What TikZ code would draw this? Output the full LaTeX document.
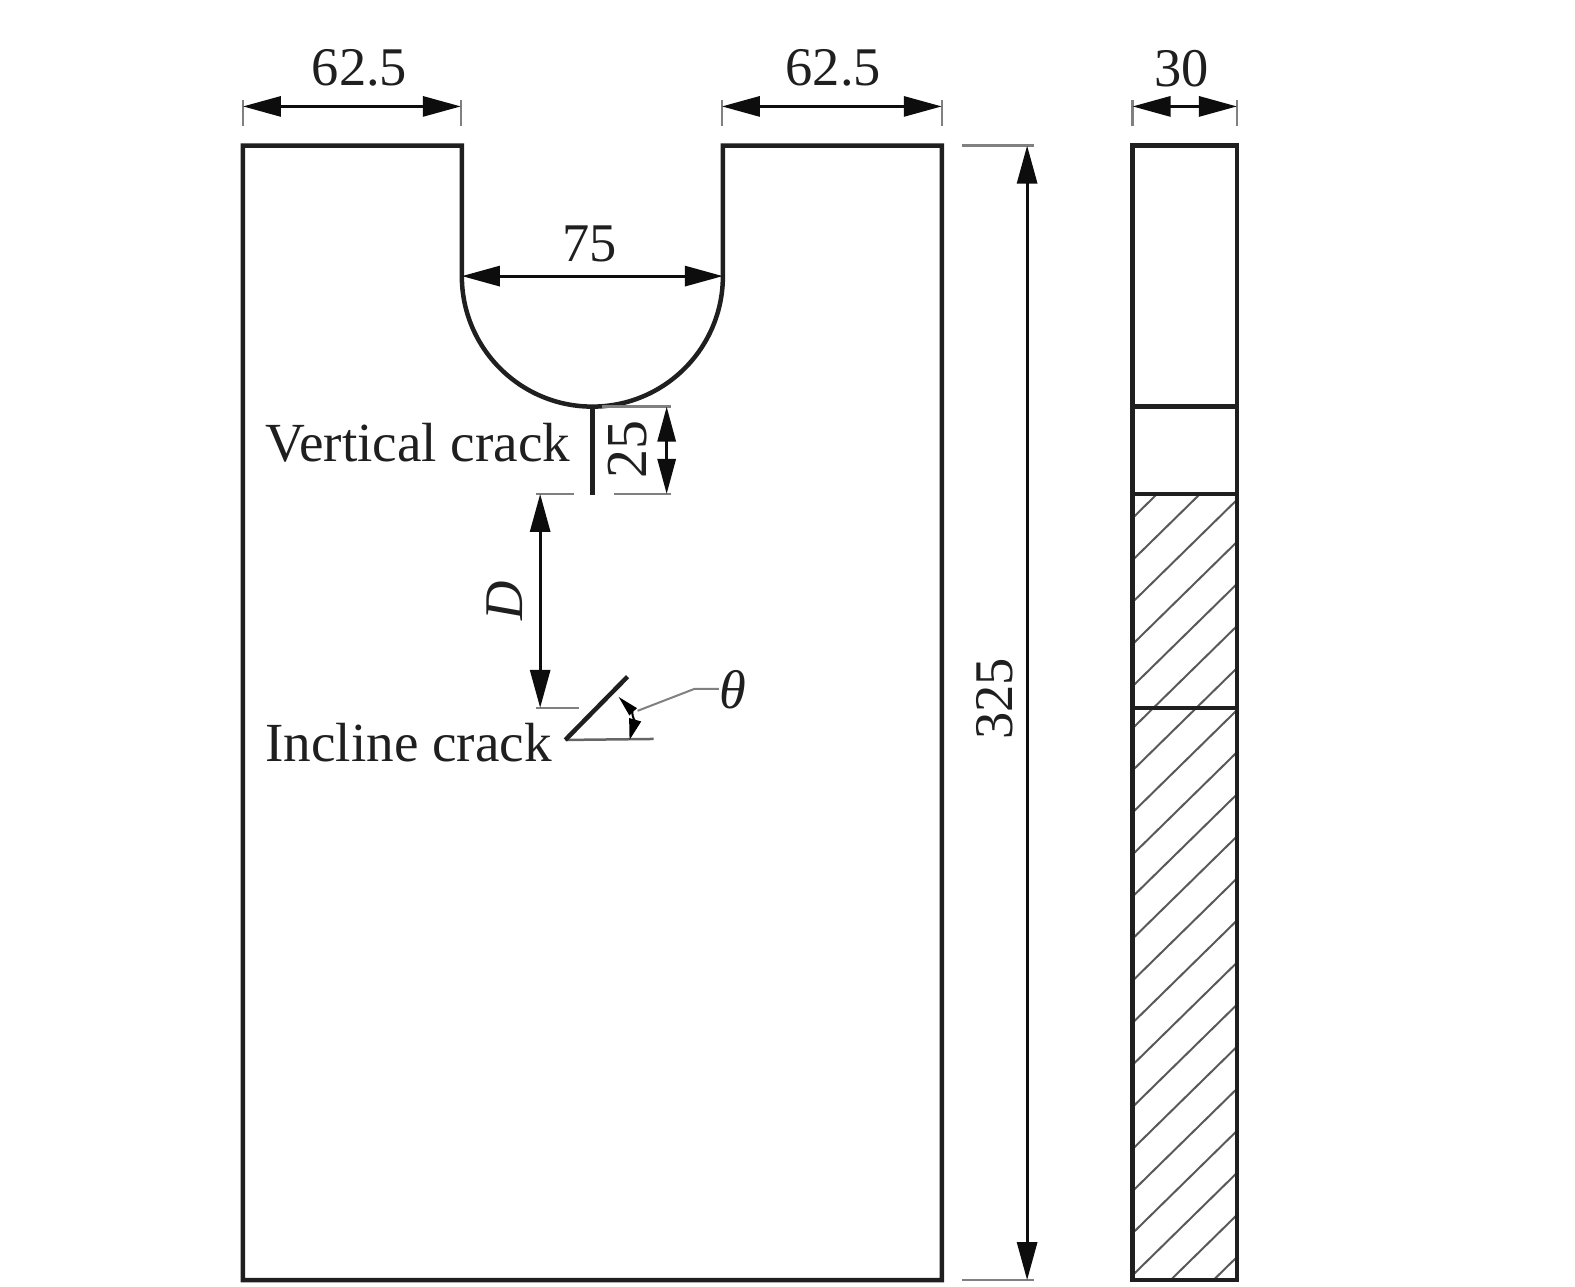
\documentclass[tikz,border=0pt]{standalone}
\usepackage{fontspec}
\setmainfont{Liberation Serif}
\usetikzlibrary{arrows.meta}

\begin{document}
\begin{tikzpicture}[x=0.02008cm,y=-0.02008cm,line cap=butt]
  % Colors
  \colorlet{outlinecolor}{black!88}
  \colorlet{extcolor}{black!50}
  \colorlet{hatchcolor}{black!65}

  % Styles
  \tikzset{outline/.style={draw=outlinecolor,line width=0.09cm}}
  \tikzset{extline/.style={draw=extcolor,line width=0.05cm}}
  \tikzset{dimline/.style={draw=black!95,line width=0.06cm,{Triangle[length=0.76cm,width=0.4cm]}-{Triangle[length=0.76cm,width=0.4cm]}}}
  \tikzset{shortdim/.style={dimline,{Triangle[length=0.7cm,width=0.36cm]}-{Triangle[length=0.7cm,width=0.36cm]}}}
  \tikzset{dimtext/.style={inner sep=0pt,font=\fontsize{31}{36}\selectfont,text=black!88}}
  \tikzset{labeltext/.style={inner sep=0pt,font=\fontsize{31.4}{36}\selectfont,text=black!88}}

  \useasboundingbox (0cm,0cm) rectangle (31.5cm,-25.72cm);

  % Front view
  \coordinate (tl) at (242,145);
  \coordinate (bl) at (242,1275);
  \coordinate (br) at (938,1275);
  \coordinate (tr) at (938,145);
  \coordinate (nl) at (460,145);
  \coordinate (nr) at (720,145);
  \coordinate (al) at (460,275);
  \coordinate (ar) at (720,275);
  \coordinate (crtop) at (590,405);
  \coordinate (crend) at (590,493);
  \draw[outline] (bl) -- (tl) -- (nl) -- (al) arc[start angle=180,end angle=0,radius=130] -- (nr) -- (tr) -- (br) -- cycle;
  \draw[outline] (crtop) -- (crend);

  % Side view
  \coordinate (sl) at (1128,145);
  \coordinate (sr) at (1232,1275);
  \begin{scope}
    \clip (1128,492) rectangle (1232,1275);
    \foreach \k in {0,...,20}
      \draw[draw=hatchcolor,line width=0.04cm] (1128,516+41.9*\k) -- (1232,414+41.9*\k);
  \end{scope}
  \draw[outline] (sl) rectangle (sr);
  \foreach \yy/\name in {405/a,492/b,705/c} {
    \coordinate (s\name l) at (1128,\yy);
    \coordinate (s\name r) at (1232,\yy);
    \draw[outline] (s\name l) -- (s\name r);
  }

  % Top dimensions
  \draw[extline] (242,100) -- (242,125);
  \draw[extline] (459,100) -- (459,125);
  \draw[extline] (719,100) -- (719,125);
  \draw[extline] (938,100) -- (938,125);
  \draw[extline] (1128,100) -- (1128,125);
  \draw[extline] (1232,100) -- (1232,125);
  \coordinate (d1a) at (242,106);
  \coordinate (d1b) at (459,106);
  \coordinate (d2a) at (719,106);
  \coordinate (d2b) at (938,106);
  \coordinate (d3a) at (1128,106);
  \coordinate (d3b) at (1232,106);
  \draw[dimline] (d1a) -- (d1b);
  \draw[dimline] (d2a) -- (d2b);
  \draw[dimline] (d3a) -- (d3b);
  \node[dimtext] (lblleft) at (358,68) {62.5};
  \node[dimtext] (lblright) at (830,68) {62.5};
  \node[dimtext] (lblthick) at (1177,68) {30};

  % Notch width
  \draw[dimline] (al) -- (ar);
  \node[dimtext] (lblnotch) at (587,243) {75};

  % Height
  \draw[extline] (958,145) -- (1030,145);
  \draw[extline] (958,1275) -- (1030,1275);
  \coordinate (ha) at (1023,145);
  \coordinate (hb) at (1023,1275);
  \draw[dimline] (ha) -- (hb);
  \node[dimtext,rotate=90] (lblheight) at (991,696) {325};

  % Crack length
  \draw[extline] (600,405) -- (668,405);
  \draw[extline] (612,492) -- (668,492);
  \coordinate (ca) at (664,405);
  \coordinate (cb) at (664,492);
  \draw[shortdim] (ca) -- (cb);
  \node[dimtext,rotate=90,font=\fontsize{33}{36}\selectfont] (lblcrack) at (625,448) {25};
  \node[labeltext,anchor=base west] (lblvert) at (264,460) {Vertical crack};

  % Distance D
  \draw[extline] (534,492) -- (572,492);
  \draw[extline] (534,705) -- (577,705);
  \coordinate (da) at (538,492);
  \coordinate (db) at (538,705);
  \draw[dimline] (da) -- (db);
  \node[dimtext,rotate=90] (lbld) at (503,598) {\textit{D}};

  % Incline crack
  \coordinate (ia) at (563,737);
  \coordinate (ib) at (625,674);
  \coordinate (ic) at (651,736);
  \draw[extline,draw=black!60] (ia) -- (ic);
  \draw[outline] (ia) -- (ib);
  \node[labeltext,anchor=base west] (lblincl) at (264,758) {Incline crack};

  % Angle
  \coordinate (ta) at (616,694);
  \coordinate (tb) at (627,737);
  \draw[line width=0.04cm,{Triangle[length=0.42cm,width=0.2cm]}-{Triangle[length=0.42cm,width=0.24cm]}] (ta) to[bend left=30] (tb);
  \node[dimtext] (lbltheta) at (730,687) {\textit{θ}};
  \coordinate (la) at (635,708);
  \coordinate (lb) at (692,686);
  \coordinate (lc) at (716,686);
  \draw[extline,line width=0.04cm] (la) -- (lb) -- (lc);
\end{tikzpicture}
\end{document}
